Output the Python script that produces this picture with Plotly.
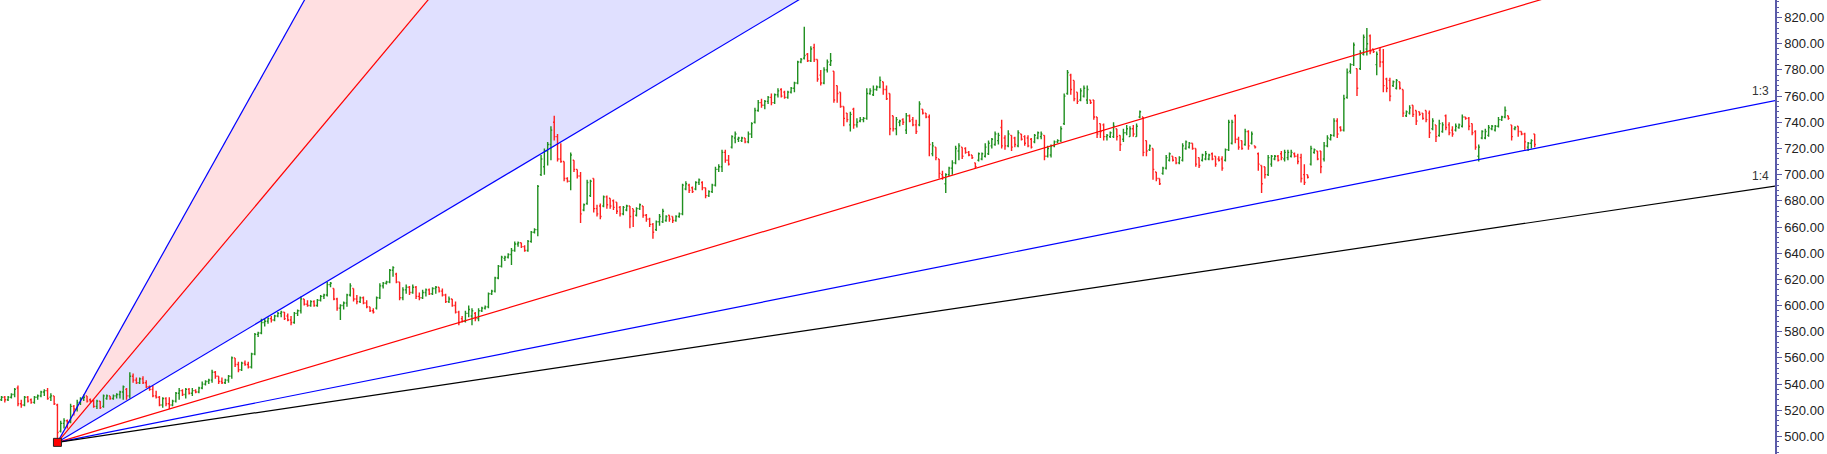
import plotly.graph_objects as go

# ---------------- data ----------------
opens = [
    528,530,528,530,532,537,525,524,530,528,
    526,530,531,534,535,530,531,524,504,510,
    512,511,523,521,526,529,531,528,527,523,
    527,523,529,531,529,531,532,534,536,531,
    546,543,541,544,541,538,536,531,530,524,
    529,525,524,527,533,535,532,536,533,535,
    534,537,540,542,543,549,546,542,541,543,
    546,560,555,551,556,555,553,563,578,579,
    587,588,590,589,592,594,595,592,589,587,
    594,596,605,601,600,603,600,604,607,608,
    616,613,605,598,600,602,608,613,605,603,
    606,602,599,596,598,606,615,617,618,627,
    624,618,606,612,614,610,614,607,606,610,
    612,609,613,614,611,608,603,605,600,595,
    590,588,594,592,594,590,596,598,599,609,
    611,621,630,636,637,639,642,647,648,645,
    642,649,656,658,700,706,718,723,740,729,
    712,710,697,695,711,704,699,673,678,684,
    697,674,676,676,683,682,680,679,675,670,
    673,676,674,669,674,676,669,666,662,658,
    664,664,665,669,668,665,668,670,689,692,
    690,689,694,694,690,684,687,692,704,706,
    717,711,721,728,727,726,728,725,731,740,
    749,755,753,756,759,755,761,765,763,759,
    763,766,770,786,789,792,787,797,788,776,
    770,780,784,779,768,763,752,747,738,750,
    738,741,742,743,762,761,765,767,771,765,
    762,745,735,740,742,734,745,742,738,738,
    750,747,744,716,721,712,700,693,700,705,
    709,718,721,720,717,715,709,711,712,714,
    716,722,723,726,736,728,722,730,728,722,
    731,729,728,727,725,728,729,730,714,715,
    722,725,726,739,762,776,772,763,757,760,
    757,757,757,744,739,738,729,729,729,735,
    730,727,732,729,735,729,744,744,726,719,
    720,702,697,701,705,711,714,713,709,711,
    720,721,724,720,713,711,712,712,716,714,
    712,712,711,719,724,745,727,726,723,733,
    724,722,716,707,706,700,708,712,714,716,
    712,713,714,716,714,713,700,700,708,717,
    718,718,712,722,727,730,741,736,734,759,
    779,784,781,781,792,796,806,796,784,795,
    786,773,772,768,766,771,765,745,747,753,
    749,748,747,749,747,735,738,730,733,745,
    738,734,734,736,737,744,743,739,733,714,
    728,728,730,735,734,737,742,744,745,738,
    735,737,733,731,721,724,731,
]
highs = [
    531,531,531,533,537,539,528,531,531,529,
    531,532,535,536,537,533,531,525,512,514,
    513,525,524,528,530,532,531,529,528,528,
    527,532,532,531,532,533,535,539,537,549,
    548,545,545,546,543,539,539,535,531,530,
    530,530,528,534,537,536,537,537,537,536,
    538,542,543,544,551,550,546,545,544,547,
    561,560,557,557,558,557,564,579,580,590,
    590,591,592,593,595,596,595,594,592,595,
    597,607,605,604,604,604,605,608,609,618,
    618,613,606,601,603,609,617,613,608,607,
    607,604,599,598,607,617,618,619,628,630,
    625,618,614,616,615,616,615,610,612,613,
    613,614,615,614,613,609,607,605,603,596,
    592,596,600,598,595,598,599,600,610,612,
    622,631,638,638,640,644,649,649,648,646,
    650,657,659,692,715,720,725,737,745,731,
    724,710,698,717,711,704,702,678,696,696,
    697,677,678,684,684,682,681,679,676,676,
    677,676,674,675,678,676,670,667,663,665,
    670,674,669,669,668,669,671,693,695,693,
    691,695,697,695,690,688,693,706,708,719,
    719,715,730,733,729,729,728,733,740,751,
    757,758,757,760,762,762,766,766,764,764,
    767,771,787,789,813,793,798,800,788,780,
    782,788,793,779,768,763,752,747,748,751,
    743,744,744,766,766,768,768,775,771,768,
    762,745,744,742,743,747,746,744,742,756,
    750,747,746,725,721,712,703,701,706,711,
    722,724,721,721,718,715,709,717,717,724,
    726,728,733,732,742,730,734,730,729,734,
    731,730,730,728,731,733,733,730,722,723,
    726,727,737,762,780,777,772,763,766,768,
    768,757,757,744,739,739,731,733,740,735,
    730,735,738,737,738,739,749,744,726,723,
    720,702,697,706,715,717,714,713,714,724,
    726,725,724,720,713,716,718,716,717,714,
    714,714,720,742,742,746,729,726,735,734,
    733,722,717,707,706,715,715,715,715,718,
    719,719,719,717,716,716,708,700,722,720,
    718,718,725,730,731,743,743,737,761,781,
    785,801,781,795,807,812,807,796,794,797,
    796,774,774,772,773,771,765,749,753,753,
    749,748,747,749,749,743,738,742,740,746,
    740,737,739,739,746,744,744,739,734,723,
    734,735,738,738,738,744,745,752,745,738,
    737,737,733,732,725,727,731,
]
lows = [
    527,526,527,529,530,523,522,523,526,525,
    525,528,530,531,528,527,524,496,503,506,
    506,510,516,519,524,527,526,526,522,521,
    521,522,528,528,528,529,529,528,528,529,
    541,540,540,540,537,535,530,529,523,522,
    523,521,523,526,528,531,529,532,531,533,
    533,536,539,540,541,544,540,540,540,541,
    544,553,549,550,554,552,552,562,576,578,
    584,586,587,588,591,591,589,588,585,586,
    592,594,600,599,599,599,599,603,605,607,
    614,604,596,589,597,599,607,603,601,602,
    601,598,595,594,597,605,613,616,617,622,
    617,604,604,609,608,609,605,604,605,607,
    608,608,609,610,607,602,602,599,594,585,
    587,587,591,585,588,588,595,597,598,608,
    610,620,629,634,636,631,641,645,644,641,
    641,648,655,653,699,700,707,711,726,710,
    709,695,694,688,702,697,663,672,677,683,
    671,668,666,675,674,674,673,670,668,669,
    672,659,660,668,673,667,664,660,651,657,
    661,663,664,664,663,664,667,669,688,686,
    686,688,692,688,682,683,686,691,702,702,
    709,707,720,724,725,725,724,724,728,739,
    748,751,750,754,753,754,759,759,758,758,
    762,763,769,785,788,786,786,786,771,768,
    769,778,783,755,755,751,737,740,733,735,
    736,740,740,742,761,760,764,766,761,757,
    730,733,730,737,738,731,740,737,731,737,
    746,743,714,714,711,697,696,686,699,700,
    708,711,712,716,714,712,705,710,711,713,
    715,720,722,723,720,719,721,718,721,721,
    726,722,721,720,724,727,727,711,713,713,
    721,724,725,738,761,761,756,754,756,759,
    754,754,742,728,728,726,726,728,728,726,
    718,725,730,729,729,729,743,714,714,718,
    696,695,692,700,704,710,710,708,708,710,
    719,720,719,706,705,710,711,711,711,706,
    710,703,710,718,723,724,719,719,722,719,
    723,720,703,686,697,699,706,711,710,711,
    710,711,713,713,708,694,692,697,707,716,
    711,701,710,721,726,729,728,733,733,758,
    777,783,760,780,791,791,792,793,776,782,
    763,763,756,767,765,765,744,744,746,744,
    738,745,742,740,728,734,725,729,732,734,
    730,729,733,735,736,742,734,730,719,710,
    727,727,729,734,733,736,741,743,742,726,
    734,729,730,719,718,720,721,
]
closes = [
    530,528,530,532,536,525,524,530,527,526,
    530,531,534,535,529,531,525,503,510,512,
    511,523,521,526,529,530,527,527,523,527,
    522,531,531,529,531,532,534,538,531,546,
    543,541,544,541,538,536,531,530,524,529,
    525,524,527,533,535,532,536,533,535,534,
    537,540,542,543,549,546,542,541,543,546,
    560,555,551,556,555,553,563,578,579,587,
    588,590,589,592,594,595,590,589,587,594,
    596,605,601,600,603,600,604,607,608,616,
    617,605,598,600,602,608,615,605,603,606,
    602,599,596,595,606,615,617,618,627,629,
    618,606,612,614,610,614,607,606,610,612,
    609,613,614,611,608,603,605,600,595,587,
    588,594,597,596,590,596,598,599,609,611,
    621,630,637,637,639,642,647,648,645,642,
    649,656,658,691,712,718,723,734,729,712,
    710,697,695,715,704,699,670,677,694,695,
    674,670,668,683,677,676,675,672,670,675,
    676,668,672,674,677,669,666,662,656,664,
    668,672,668,666,665,668,670,692,693,688,
    687,694,696,690,684,687,692,704,706,717,
    711,708,729,731,728,728,725,731,739,749,
    755,753,756,759,755,761,764,760,759,763,
    766,770,786,788,791,787,796,788,773,770,
    780,786,787,757,762,752,743,742,746,738,
    740,742,743,762,764,765,767,772,765,758,
    735,735,742,741,740,745,741,738,733,754,
    747,744,723,722,713,701,698,700,705,709,
    720,722,714,717,715,713,706,716,716,721,
    724,727,731,730,722,722,731,721,723,732,
    727,724,722,721,730,732,731,714,720,722,
    725,726,735,760,778,765,758,756,764,766,
    765,755,744,731,733,729,730,732,737,729,
    723,732,735,735,731,737,748,717,718,722,
    704,697,693,705,713,716,711,709,713,722,
    725,724,720,708,707,715,716,715,712,708,
    711,705,719,740,740,727,721,720,733,722,
    731,721,708,693,700,713,714,714,711,713,
    717,717,717,714,710,697,694,698,720,719,
    712,706,722,728,730,741,731,734,758,778,
    784,799,766,793,805,800,794,794,792,786,
    768,766,760,771,772,766,747,748,751,746,
    741,746,743,742,732,741,729,739,738,736,
    732,731,737,738,744,743,737,732,721,721,
    733,733,736,737,737,742,744,749,743,729,
    736,733,731,725,724,726,723,
]
bar_index = list(range(len(closes)))

# Gann fan: anchor bar / price, price units per bar for 1x1, fan ratios
anchor_bar = 17
anchor_price = 495.5
unit_per_bar = 1.5
fan_ratios = [3, 2, 1, 1/2, 1/3, 1/4]
fan_names = ["3:1", "2:1", "1:1", "1:2", "1:3", "1:4"]
fan_colors = ["#0000ff", "#ff0000", "#0000ff", "#ff0000", "#0000ff", "#000000"]
labelled = ["1:3", "1:4"]

x_min, x_max = -0.46, 539.05
y_min, y_max = 486.6, 833.4
fan_end = 700

def fan_price(ratio, x):
    return anchor_price + (x - anchor_bar) * unit_per_bar * ratio

fig = go.Figure()

# shaded zones between 3:1 / 2:1 and 2:1 / 1:1 (drawn beneath the bars)
for (r1, r2, col) in [(3, 2, "#ffdfe1"), (2, 1, "#e0e0ff")]:
    path = "M {},{} L {},{} L {},{} Z".format(
        anchor_bar, anchor_price,
        fan_end, fan_price(r1, fan_end),
        fan_end, fan_price(r2, fan_end))
    fig.add_shape(type="path", path=path, xref="x", yref="y",
                  fillcolor=col, line=dict(width=0), layer="below")

fig.add_trace(go.Ohlc(
    x=bar_index, open=opens, high=highs, low=lows, close=closes,
    increasing=dict(line=dict(color="#1f8f1f", width=1.4)),
    decreasing=dict(line=dict(color="#ff1f1f", width=1.4)),
    tickwidth=0.38, showlegend=False))

for r, name, col in zip(fan_ratios, fan_names, fan_colors):
    fig.add_trace(go.Scatter(
        x=[anchor_bar, fan_end], y=[anchor_price, fan_price(r, fan_end)],
        mode="lines", line=dict(color=col, width=1.2),
        hoverinfo="skip", showlegend=False, name=name))
    if name in labelled:
        fig.add_annotation(
            x=x_max, y=fan_price(r, x_max), xref="x", yref="y",
            text=name, showarrow=False, xanchor="right", yanchor="bottom",
            xshift=-4, yshift=1,
            font=dict(family="Liberation Sans, Arial", size=12, color="#333333"))

fig.add_trace(go.Scatter(
    x=[anchor_bar], y=[anchor_price], mode="markers",
    marker=dict(symbol="square", size=8, color="#ff0000",
                line=dict(color="#202020", width=1)),
    hoverinfo="skip", showlegend=False))

fig.update_layout(
    width=1827, height=454,
    margin=dict(l=0, r=52, t=0, b=0),
    paper_bgcolor="white", plot_bgcolor="white",
    showlegend=False,
    xaxis=dict(range=[x_min, x_max], visible=False, showgrid=False,
               zeroline=False, rangeslider=dict(visible=False)),
    yaxis=dict(range=[y_min, y_max], side="right", tick0=500, dtick=20,
               tickformat=".2f", ticks="outside", ticklen=5, tickwidth=1,
               tickcolor="#5a5aa8", showline=True, linecolor="#5a5aa8",
               linewidth=1.5, showgrid=False, zeroline=False, automargin=False,
               tickfont=dict(family="Liberation Sans, Arial", size=13, color="#222222"),
               minor=dict(dtick=4, ticks="outside", ticklen=2, tickcolor="#5a5aa8",
                          showgrid=False)),
)

fig.write_html("out.html",
               config={"displayModeBar": False},
               post_script="document.body.style.margin='0';document.body.style.overflow='hidden';")
